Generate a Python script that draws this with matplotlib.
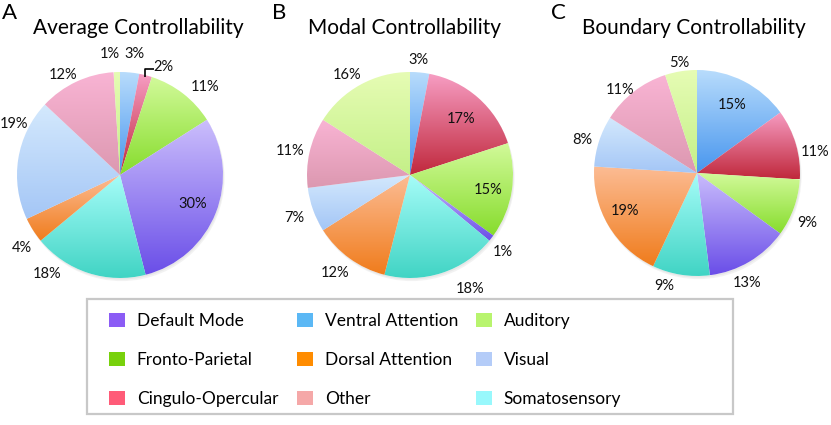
import numpy as np
import matplotlib
matplotlib.use("Agg")
import matplotlib.pyplot as plt
from matplotlib.colors import LinearSegmentedColormap
from matplotlib.patches import Patch, Rectangle, Circle

plt.rcParams['font.family'] = ['Lato', 'DejaVu Sans']

W, H = 831, 425

# slices go clockwise from 12 o'clock in this order
networks = ['Ventral Attention', 'Cingulo-Opercular', 'Fronto-Parietal', 'Default Mode',
            'Somatosensory', 'Dorsal Attention', 'Visual', 'Other', 'Auditory']
average = [3, 2, 11, 30, 18, 4, 19, 12, 1]
modal = [3, 17, 15, 1, 18, 12, 7, 11, 16]
boundary = [15, 11, 9, 13, 9, 19, 8, 11, 5]

legend_columns = [['Default Mode', 'Fronto-Parietal', 'Cingulo-Opercular'],
                  ['Ventral Attention', 'Dorsal Attention', 'Other'],
                  ['Auditory', 'Visual', 'Somatosensory']]

legend_colors = {
    'Default Mode': '#8b5cf5',
    'Fronto-Parietal': '#78d10c',
    'Cingulo-Opercular': '#ff5b78',
    'Ventral Attention': '#5bb8f5',
    'Dorsal Attention': '#ff8c00',
    'Other': '#f5a8a8',
    'Auditory': '#b8f46e',
    'Visual': '#b4ccf8',
    'Somatosensory': '#98f8fc',
}

# (top, bottom) of the gradient fill used in the pies
gradients = {
    'Ventral Attention': ('#b8dcfc', '#4896ee'),
    'Cingulo-Opercular': ('#f79ec4', '#c0283c'),
    'Fronto-Parietal': ('#d2fa9a', '#86dc2c'),
    'Default Mode': ('#cbbefc', '#6a4ee8'),
    'Somatosensory': ('#a6fcf8', '#40d4c4'),
    'Dorsal Attention': ('#fcbc94', '#f07c1c'),
    'Visual': ('#d4e9fd', '#a4c6f6'),
    'Other': ('#f9b4d4', '#dc98b0'),
    'Auditory': ('#e6fcb4', '#c4f088'),
}

# label placement, in units of pie radius from the centre (same order as networks)
labels_avg = [(0.14, 1.17), (0.42, 1.05), (0.83, 0.85), (0.71, -0.28), (-0.71, -0.96),
              (-0.95, -0.71), (-1.03, 0.50), (-0.55, 0.97), (-0.10, 1.17)]
labels_modal = [(0.08, 1.12), (0.50, 0.54), (0.76, -0.15), (0.90, -0.75), (0.58, -1.11),
                (-0.73, -0.95), (-1.12, -0.42), (-1.16, 0.23), (-0.61, 0.97)]
labels_bound = [(0.34, 0.66), (1.15, 0.20), (1.07, -0.49), (0.49, -1.07), (-0.32, -1.10),
                (-0.70, -0.37), (-1.11, 0.32), (-0.75, 0.81), (-0.17, 1.07)]

fig = plt.figure(figsize=(W / 100, H / 100), dpi=100)
grad = np.linspace(0, 1, 256).reshape(-1, 1)


def draw_pie(cx, cy, r, values, label_pos):
    half = 1.25 * r
    ax = fig.add_axes([(cx - half) / W, (H - cy - half) / H, 2 * half / W, 2 * half / H])
    # faint drop shadow
    ax.add_patch(Circle((0.015, -0.03), 1.0, color='#888888', alpha=0.10, lw=0, zorder=0))
    ax.add_patch(Circle((0.008, -0.015), 1.0, color='#888888', alpha=0.10, lw=0, zorder=0))
    wedges, _ = ax.pie(values, startangle=90, counterclock=False, radius=1,
                       wedgeprops=dict(linewidth=0))
    for w, name in zip(wedges, networks):
        top, bottom = gradients[name]
        w.set_facecolor('white')
        w.set_zorder(1)
        ext = w.get_path().get_extents()
        cmap = LinearSegmentedColormap.from_list(name, [bottom, top])
        im = ax.imshow(grad, cmap=cmap, extent=[ext.x0, ext.x1, ext.y0, ext.y1],
                       origin='lower', aspect='auto', interpolation='bilinear', zorder=2)
        im.set_clip_path(w)
    for v, (lx, ly) in zip(values, label_pos):
        ax.text(lx, ly, f'{v}%', ha='center', va='center', fontsize=10.5, color='#111111')
    ax.set_xlim(-1.25, 1.25)
    ax.set_ylim(-1.25, 1.25)
    ax.set_aspect('equal')
    ax.axis('off')
    return ax, wedges


ax_a, wedges_a = draw_pie(120, 175, 103, average, labels_avg)
ax_b, _ = draw_pie(410, 175, 103, modal, labels_modal)
ax_c, _ = draw_pie(697, 173, 103, boundary, labels_bound)

# leader bracket for the small 2% slice
w2 = wedges_a[1]
mid = np.deg2rad((w2.theta1 + w2.theta2) / 2)
x0, y0 = np.cos(mid) * 0.98, np.sin(mid) * 0.98
ax_a.plot([x0, x0, x0 + 0.09], [y0, y0 + 0.08, y0 + 0.08], color='black', lw=1.2,
          solid_capstyle='butt', zorder=5)

titles = [('A', 10, 'Average Controllability', 138),
          ('B', 279, 'Modal Controllability', 405),
          ('C', 558, 'Boundary Controllability', 694)]
for letter, lx, title, tx in titles:
    fig.text(lx / W, 1 - 13 / H, letter, ha='center', va='center', fontsize=16)
    fig.text(tx / W, 1 - 28 / H, title, ha='center', va='center', fontsize=15)

# legend box
fig.patches.append(Rectangle((87 / W, 1 - 414 / H), (733 - 87) / W, (414 - 299) / H,
                             transform=fig.transFigure, facecolor='none',
                             edgecolor='#c8c8c8', lw=1.6))
for col, x_px in zip(legend_columns, [109, 297, 476]):
    handles = [Patch(facecolor=legend_colors[n], edgecolor='none') for n in col]
    fig.legend(handles, col, loc='upper left',
               bbox_to_anchor=(x_px / W, 1 - 313 / H), frameon=False, borderpad=0,
               borderaxespad=0, fontsize=12.5, handlelength=0.9, handleheight=0.9,
               handletextpad=0.7, labelspacing=1.3)

fig.savefig('out.png', dpi=100)
